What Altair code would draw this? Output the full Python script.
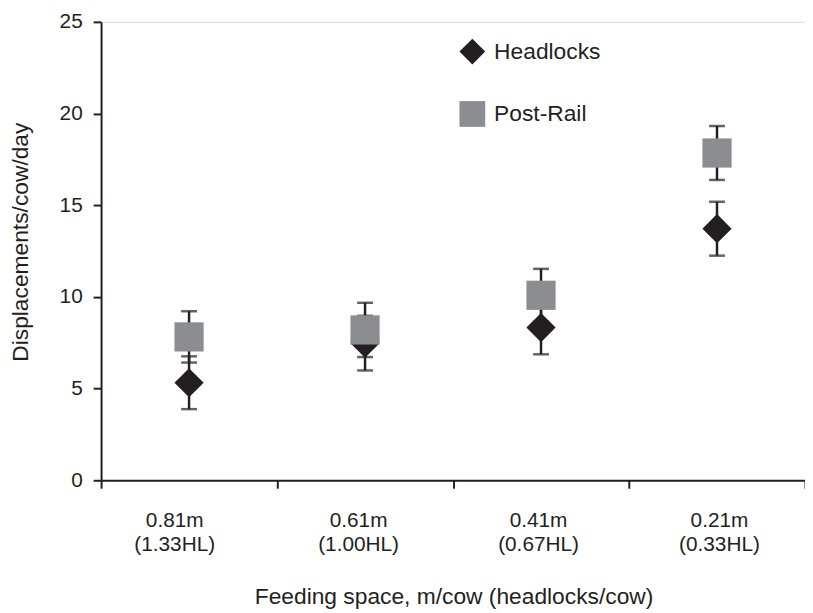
import altair as alt
import pandas as pd

categories = ["0.81m (1.33HL)", "0.61m (1.00HL)", "0.41m (0.67HL)", "0.21m (0.33HL)"]
series_names = ["Headlocks", "Post-Rail"]
headlocks_mean = [5.32, 7.48, 8.33, 13.72]
headlocks_err = [1.44, 1.49, 1.46, 1.47]
postrail_mean = [7.82, 8.20, 10.09, 17.85]
postrail_err = [1.40, 1.48, 1.44, 1.47]

rows = []
for c, m, e in zip(categories, headlocks_mean, headlocks_err):
    rows.append({"cat": c, "series": series_names[0], "mean": m, "err": e})
for c, m, e in zip(categories, postrail_mean, postrail_err):
    rows.append({"cat": c, "series": series_names[1], "mean": m, "err": e})
df = pd.DataFrame(rows)

INK = "#231f20"
GRAY = "#8b8d90"
FONT = "Liberation Sans"

x_axis = alt.Axis(
    title="Feeding space, m/cow (headlocks/cow)",
    labelExpr="split(datum.label, ' ')",
    labelAngle=0,
    labelFontSize=21,
    labelLineHeight=24,
    labelPadding=22,
    labelColor=INK,
    labelOffset={
        "condition": [
            {"test": "datum.value == '0.81m (1.33HL)'", "value": -15},
            {"test": "datum.value == '0.61m (1.00HL)'", "value": -7},
            {"test": "datum.value == '0.41m (0.67HL)'", "value": -3},
        ],
        "value": 2,
    },
    tickSize=8,
    tickWidth=2,
    tickColor=INK,
    tickBand="extent",
    domainColor=INK,
    domainWidth=2,
    grid=False,
    titleFontSize=23,
    titleFontWeight="normal",
    titleColor=INK,
    titleX=356,
    titleY=124.6,
    titleBaseline="alphabetic",
)

y_axis = alt.Axis(
    title="Displacements/cow/day",
    values=[0, 5, 10, 15, 20, 25],
    labelFontSize=21,
    labelPadding=11,
    labelColor=INK,
    tickSize=8,
    tickWidth=2,
    tickColor=INK,
    domainColor=INK,
    domainWidth=2,
    grid=False,
    titleFontSize=23,
    titleFontWeight="normal",
    titleColor=INK,
    titleX=-74,
    titleY=222,
    titleBaseline="alphabetic",
)

x_enc = alt.X("cat:N", sort=categories, scale=alt.Scale(paddingInner=0, paddingOuter=0), axis=x_axis)
y_scale = alt.Scale(domain=[0, 25], nice=False)

base = alt.Chart(df).transform_calculate(
    lo="datum.mean - datum.err", hi="datum.mean + datum.err"
)

rules = base.mark_rule(color=INK, strokeWidth=2.5).encode(
    x=x_enc,
    y=alt.Y("lo:Q", scale=y_scale, axis=y_axis),
    y2="hi:Q",
)
caps_lo = base.mark_tick(color=INK, size=16, thickness=2.5, orient="horizontal").encode(
    x=x_enc, y=alt.Y("lo:Q", scale=y_scale)
)
caps_hi = base.mark_tick(color=INK, size=16, thickness=2.5, orient="horizontal").encode(
    x=x_enc, y=alt.Y("hi:Q", scale=y_scale)
)

leg = alt.Legend(
    title=None,
    orient="none",
    legendX=362,
    legendY=17,
    labelFontSize=23,
    labelColor=INK,
    labelOffset=9,
    symbolSize=676,
    symbolStrokeWidth=0,
    symbolOpacity=1,
    rowPadding=37,
    padding=0,
)

points = base.mark_point(filled=True, opacity=1, size=870).encode(
    x=x_enc,
    y=alt.Y("mean:Q", scale=y_scale),
    shape=alt.Shape("series:N", scale=alt.Scale(domain=series_names, range=["diamond", "square"]), legend=leg),
    color=alt.Color("series:N", scale=alt.Scale(domain=series_names, range=[INK, GRAY]), legend=leg),
)

chart = (
    alt.layer(rules, caps_lo, caps_hi, points)
    .properties(
        width=711,
        height=463,
        autosize=alt.AutoSizeParams(type="none"),
        padding={"left": 94, "top": 11, "right": 0, "bottom": 128},
    )
    .configure_view(stroke=None)
    .configure(font=FONT)
)

chart.save("out.html", embed_options={"renderer": "svg", "actions": False})
